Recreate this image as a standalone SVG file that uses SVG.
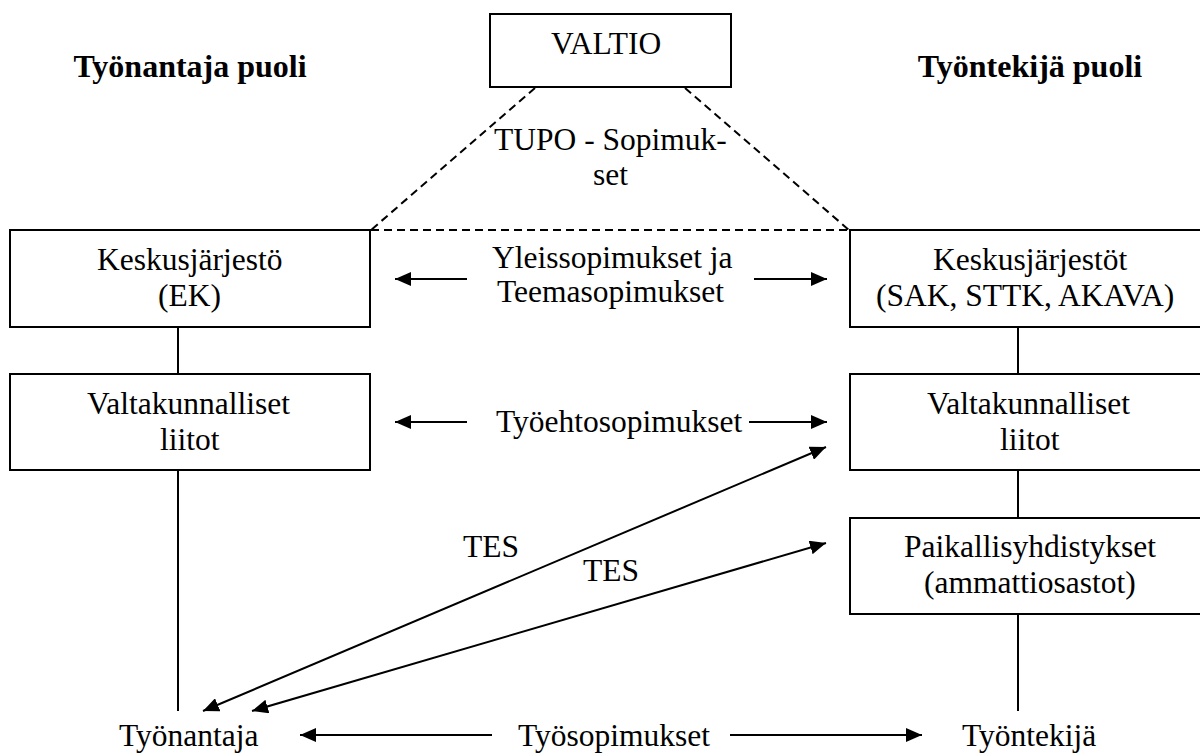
<svg xmlns="http://www.w3.org/2000/svg" width="1200" height="756" viewBox="0 0 1200 756">
<defs>
<marker id="ah" markerUnits="userSpaceOnUse" markerWidth="16" markerHeight="14" refX="16" refY="7" orient="auto-start-reverse">
<path d="M0,0 L16,7 L0,14 z" fill="#000"/>
</marker>
</defs>
<rect width="1200" height="756" fill="#fff"/>

<g id="titles">
<text x="190" y="77" font-family="Liberation Serif" font-size="32" font-weight="bold" text-anchor="middle">Työnantaja puoli</text>
<text x="1030" y="77" font-family="Liberation Serif" font-size="32" font-weight="bold" text-anchor="middle">Työntekijä puoli</text>
</g>

<g id="connectors" stroke="#000" stroke-width="2" fill="none">
<g stroke-dasharray="8 5">
<line x1="535" y1="88" x2="371" y2="230"/>
<line x1="685" y1="88" x2="849" y2="230"/>
<line x1="371" y1="230" x2="849" y2="230"/>
</g>
<line x1="178" y1="327" x2="178" y2="374"/>
<line x1="178" y1="470" x2="178" y2="711"/>
<line x1="1018" y1="327" x2="1018" y2="374"/>
<line x1="1018" y1="470" x2="1018" y2="518"/>
<line x1="1018" y1="614" x2="1018" y2="711"/>
<g marker-end="url(#ah)">
<line x1="467" y1="279" x2="395" y2="279"/>
<line x1="754" y1="279" x2="827" y2="279"/>
<line x1="467" y1="422" x2="395" y2="422"/>
<line x1="749" y1="422" x2="827" y2="422"/>
<line x1="492" y1="735" x2="300" y2="735"/>
<line x1="730" y1="735" x2="922" y2="735"/>
<line x1="203" y1="711" x2="826" y2="447" marker-start="url(#ah)"/>
<line x1="252" y1="711" x2="826" y2="543" marker-start="url(#ah)"/>
</g>
</g>

<g id="valtio">
<rect x="490" y="14" width="241" height="73" fill="#fff" stroke="#000" stroke-width="2"/>
<text x="551" y="54" font-family="Liberation Serif" font-size="31.5">VALTIO</text>
</g>

<g id="tupo">
<text x="494" y="150" font-family="Liberation Serif" font-size="31.5">TUPO - Sopimuk-</text>
<text x="593" y="185" font-family="Liberation Serif" font-size="31.5">set</text>
</g>

<g id="keskus-ek">
<rect x="10" y="230" width="360" height="97" fill="#fff" stroke="#000" stroke-width="2"/>
<text x="97" y="270" font-family="Liberation Serif" font-size="31.5">Keskusjärjestö</text>
<text x="158" y="306" font-family="Liberation Serif" font-size="31.5">(EK)</text>
</g>

<g id="keskus-tt">
<rect x="850" y="230" width="360" height="97" fill="#fff" stroke="#000" stroke-width="2"/>
<text x="933" y="270" font-family="Liberation Serif" font-size="31.5">Keskusjärjestöt</text>
<text x="876" y="306" font-family="Liberation Serif" font-size="31.5">(SAK, STTK, AKAVA)</text>
</g>

<g id="liitot-ta">
<rect x="10" y="374" width="360" height="96" fill="#fff" stroke="#000" stroke-width="2"/>
<text x="87" y="414" font-family="Liberation Serif" font-size="31.5">Valtakunnalliset</text>
<text x="160" y="450" font-family="Liberation Serif" font-size="31.5">liitot</text>
</g>

<g id="liitot-tt">
<rect x="850" y="374" width="360" height="96" fill="#fff" stroke="#000" stroke-width="2"/>
<text x="927" y="414" font-family="Liberation Serif" font-size="31.5">Valtakunnalliset</text>
<text x="1000" y="450" font-family="Liberation Serif" font-size="31.5">liitot</text>
</g>

<g id="paikallis">
<rect x="850" y="518" width="360" height="96" fill="#fff" stroke="#000" stroke-width="2"/>
<text x="904" y="557" font-family="Liberation Serif" font-size="31.5">Paikallisyhdistykset</text>
<text x="924" y="593" font-family="Liberation Serif" font-size="31.5">(ammattiosastot)</text>
</g>

<g id="labels">
<text x="492" y="268" font-family="Liberation Serif" font-size="31.5">Yleissopimukset ja</text>
<text x="497" y="302" font-family="Liberation Serif" font-size="31.5">Teemasopimukset</text>
<text x="496" y="432" font-family="Liberation Serif" font-size="31.5">Työehtosopimukset</text>
<text x="463" y="557" font-family="Liberation Serif" font-size="31.5">TES</text>
<text x="583" y="581" font-family="Liberation Serif" font-size="31.5">TES</text>
<text x="518" y="746" font-family="Liberation Serif" font-size="31.5">Työsopimukset</text>
</g>

<g id="tyonantaja"><text x="119" y="746" font-family="Liberation Serif" font-size="31.5">Työnantaja</text></g>
<g id="tyontekija"><text x="962" y="746" font-family="Liberation Serif" font-size="31.5">Työntekijä</text></g>
</svg>
